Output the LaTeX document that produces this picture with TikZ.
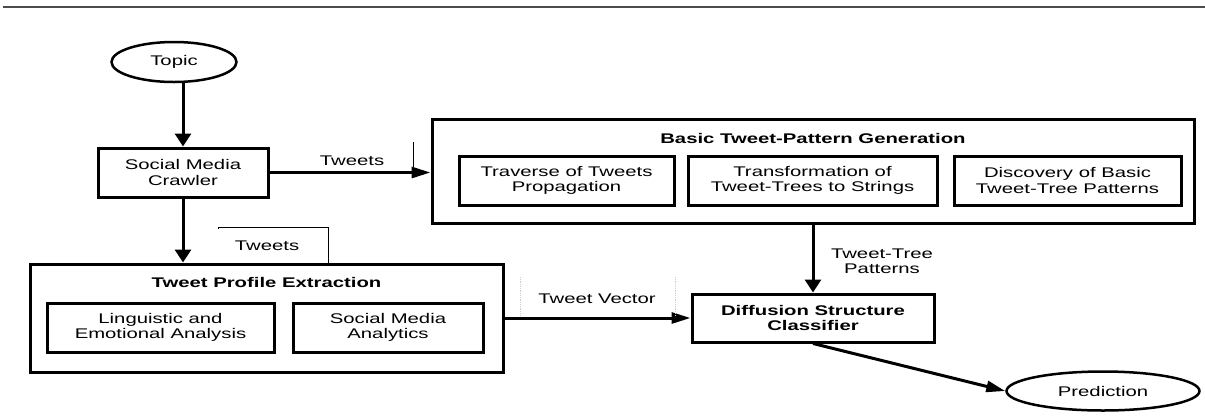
\documentclass[tikz,border=0pt]{standalone}
\usepackage{fontspec}
\setmainfont{Liberation Sans}[FakeStretch=1.45]
\usetikzlibrary{shapes,arrows.meta}

\tikzset{
  box/.style={draw, rectangle, line width=3pt, align=center, inner sep=0pt},
  oval/.style={draw, ellipse, line width=2.5pt, inner sep=0pt},
  varrow/.style={line width=3pt, -{Triangle[width=16pt,length=13pt]}},
  harrow/.style={line width=3pt, -{Triangle[width=11pt,length=19pt]}},
  lbl/.style={align=center, inner sep=0pt},
  ghost/.style={line width=0.9pt},
}

\begin{document}
\begin{tikzpicture}[x=1pt,y=-1pt,font=\fontsize{14}{15.5}\selectfont]
        \useasboundingbox (0,0) rectangle (1205,416);
        \draw[gray!60!black, line width=2pt] (3,7) -- (1205,7);

        % left column
        \node[oval, minimum width=125pt, minimum height=40pt] (topic) at (174,62) {Topic};
        \node[box, minimum width=170pt, minimum height=49pt] (smc) at (183,172.5) {Social Media\\Crawler};

        % basic tweet-pattern generation
        \node[box, minimum width=762pt, minimum height=104pt] (btpg) at (813,171) {};
        \node[lbl, font=\fontsize{14}{15.5}\selectfont\bfseries] (btpgt) at (813,138) {Basic Tweet-Pattern Generation};
        \node[box, minimum width=215pt, minimum height=49pt] (trav) at (566.5,180.5) {Traverse of Tweets\\Propagation};
        \node[box, minimum width=249pt, minimum height=49pt] (trans) at (812.5,180.5) {Transformation of\\Tweet-Trees to Strings};
        \node[box, minimum width=227pt, minimum height=49pt] (disc) at (1067.5,180.5) {Discovery of Basic\\Tweet-Tree Patterns};

        % tweet profile extraction
        \node[box, minimum width=473pt, minimum height=108pt] (tpe) at (266.5,318) {};
        \node[lbl, font=\fontsize{14}{15.5}\selectfont\bfseries] (tpet) at (266.5,282.5) {Tweet Profile Extraction};
        \node[box, minimum width=227pt, minimum height=49pt] (ling) at (160.5,327.5) {Linguistic and\\Emotional Analysis};
        \node[box, minimum width=190pt, minimum height=49pt] (sma) at (388,327.5) {Social Media\\Analytics};

        % classifier and output
        \node[box, minimum width=242pt, minimum height=48pt, font=\fontsize{14}{15.5}\selectfont\bfseries] (dsc) at (813,318) {Diffusion Structure\\Classifier};
        \node[oval, minimum width=193pt, minimum height=39pt] (pred) at (1103,391) {Prediction};

        % connectors
        \draw[varrow] (smc.north |- topic.south) -- (smc.north);
        \draw[varrow] (smc.south) -- (smc.south |- tpe.north);
        \draw[harrow] (smc.east) -- (smc.east -| btpg.west);
        \draw[varrow] (btpg.south) -- (dsc.north);
        \draw[harrow] (tpe.east) -- (dsc.west);
        \draw[harrow] (dsc.south) -- (pred.west);

        % labels
        \node[lbl] (tw1) at (352,161) {Tweets};
        \node[lbl] (tw2) at (267,246) {Tweets};
        \node[lbl] (ttp) at (882,261) {Tweet-Tree\\Patterns};
        \node[lbl] (tvec) at (597,299) {Tweet Vector};

        % leftover text frame marks
        \draw[ghost] (413,142) -- (413,167);
        \draw[ghost] (218,229) -- (218,227) -- (328,227) -- (328,264);
        \draw[gray!40, densely dotted, line width=0.8pt] (520,277) -- (520,315);
        \draw[gray!40, densely dotted, line width=0.8pt] (675,277) -- (675,315);
\end{tikzpicture}
\end{document}
